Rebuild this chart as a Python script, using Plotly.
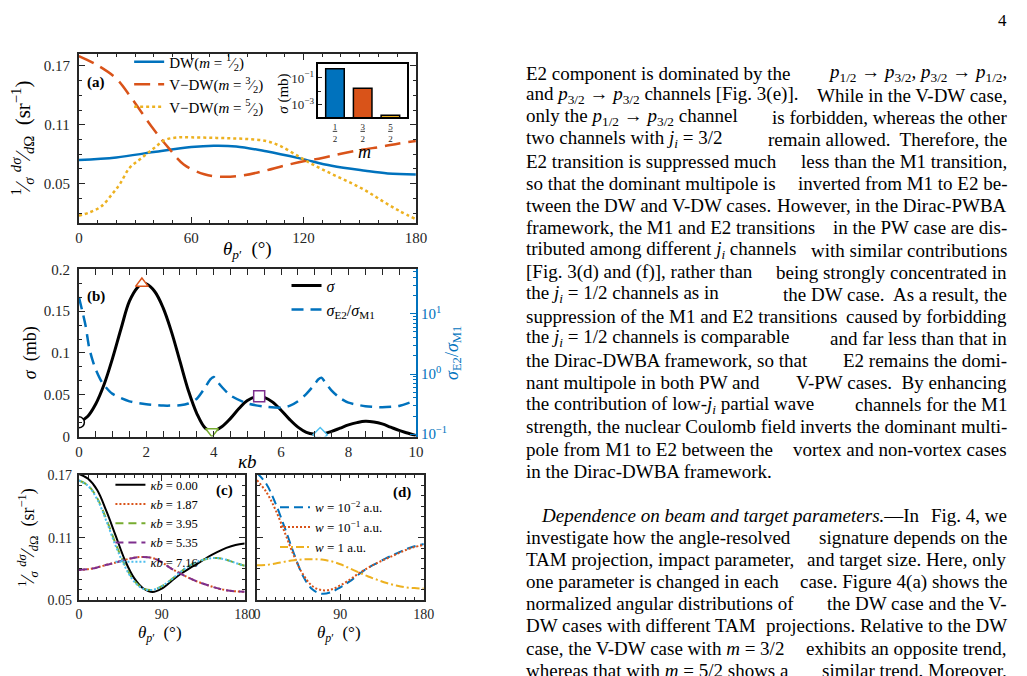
import plotly.graph_objects as go

W, H = 1027, 676
def px(x): return x / W
def py(y): return 1 - y / H

FONT = "Liberation Serif, Times New Roman, serif"
AX = "#262626"
BLUE = "#0072BD"; ORANGE = "#D95319"; YELLOW = "#EDB120"
PURPLE = "#7E2F8E"; GREEN = "#77AC30"; CYAN = "#4DBEEE"

# ---------------- data: panel (a) ----------------
theta_dw = [0, 20, 40, 60, 72, 84, 100, 118, 135, 153, 165, 180]
dw_m12 = [0.0742, 0.0768, 0.0822, 0.0873, 0.0887, 0.0880, 0.0830, 0.0758, 0.0682, 0.0632, 0.0605, 0.0594]
theta_v32 = [0, 10, 20, 28, 39, 48, 56, 67, 77, 88, 99, 109, 120, 130, 140, 151, 162, 171, 180]
vdw_m32 = [0.180, 0.1705, 0.157, 0.1375, 0.1077, 0.0862, 0.0696, 0.0596, 0.0570, 0.0586, 0.0630, 0.0680,
           0.0729, 0.0762, 0.0805, 0.0845, 0.0878, 0.0910, 0.0934]
theta_v52 = [0, 6, 12, 18, 22, 27, 33, 40, 46, 53, 60, 70, 80, 90, 100, 108, 118, 126, 135, 144, 153, 162, 171, 180]
vdw_m52 = [0.0175, 0.0210, 0.0270, 0.0400, 0.0500, 0.0660, 0.0755, 0.0860, 0.0945, 0.0972, 0.0972, 0.0968,
           0.0963, 0.0955, 0.0935, 0.0880, 0.0770, 0.0685, 0.0600, 0.0520, 0.0432, 0.0325, 0.0225, 0.0138]
m_labels = ["<u>1</u><br>2", "<u>3</u><br>2", "<u>5</u><br>2"]
m_pos = [1, 2, 3]
sigma_m = [0.49, 0.017, 1.6e-4]

# ---------------- data: panel (b) ----------------
kb = [0, 0.25, 0.5, 0.75, 1.0, 1.25, 1.5, 1.75, 1.87, 2.0, 2.25, 2.5, 2.75, 3.0, 3.25, 3.5, 3.75, 3.95,
      4.25, 4.5, 4.75, 5.0, 5.35, 5.5, 5.75, 6.0, 6.25, 6.5, 6.75, 7.0, 7.16, 7.5, 7.75, 8.0, 8.25, 8.5,
      8.75, 9.0, 9.25, 9.5, 9.75, 10]
sigma_kb = [0.0171, 0.0237, 0.039, 0.0626, 0.0938, 0.129, 0.162, 0.179, 0.183, 0.1825, 0.1735, 0.154, 0.125,
            0.0899, 0.0549, 0.0276, 0.0101, 0.0062, 0.012, 0.0218, 0.0335, 0.0432, 0.0482, 0.047, 0.0412,
            0.0315, 0.0206, 0.0113, 0.0051, 0.0027, 0.0023, 0.0062, 0.0101, 0.014, 0.0167, 0.0183, 0.0175,
            0.0152, 0.0113, 0.0074, 0.0043, 0.0012]
kb_r = [0, 0.1, 0.2, 0.3, 0.4, 0.5, 0.7, 1.0, 1.5, 2.0, 2.5, 3.0, 3.25, 3.5, 3.75, 3.9, 4.0, 4.1, 4.25, 4.5,
        5.0, 5.5, 6.0, 6.25, 6.5, 6.75, 7.0, 7.1, 7.2, 7.3, 7.5, 7.75, 8.0, 8.5, 9.0, 9.5, 10]
ratio_e2m1 = [19.0, 11.2, 6.3, 2.84, 1.73, 1.19, 0.706, 0.468, 0.352, 0.314, 0.299, 0.303, 0.324, 0.389,
              0.603, 0.813, 0.891, 0.759, 0.603, 0.44, 0.324, 0.288, 0.277, 0.295, 0.352, 0.468, 0.679,
              0.813, 0.871, 0.741, 0.53, 0.398, 0.334, 0.292, 0.281, 0.295, 0.365]
mark_kb = [0, 1.87, 3.95, 5.35, 7.16]
mark_sigma = [0.0171, 0.183, 0.0062, 0.0482, 0.0023]
mark_symbols = ["circle", "triangle-up", "triangle-down", "square", "diamond"]
mark_colors = ["black", ORANGE, GREEN, PURPLE, CYAN]

# ---------------- data: panels (c), (d) ----------------
theta_cd = [0, 10, 20, 30, 40, 50, 60, 70, 80, 90, 100, 110, 120, 130, 140, 150, 160, 170, 180]
c_kb000 = [0.171, 0.1663, 0.1554, 0.1351, 0.1117, 0.0884, 0.0712, 0.0613, 0.0580, 0.0613, 0.0681, 0.0750,
           0.0806, 0.0859, 0.0915, 0.0962, 0.1002, 0.1030, 0.1043]
c_kb187 = [0.0790, 0.0798, 0.0815, 0.0840, 0.0862, 0.0888, 0.0908, 0.0915, 0.0905, 0.0865, 0.0806, 0.0757,
           0.0712, 0.0675, 0.0644, 0.0617, 0.0597, 0.0586, 0.0582]
c_kb395 = [0.1647, 0.1600, 0.1476, 0.1273, 0.1040, 0.0837, 0.0688, 0.0613, 0.0600, 0.0635, 0.0697, 0.0769,
           0.0831, 0.0874, 0.0899, 0.0905, 0.0888, 0.0858, 0.0831]
c_kb535 = [0.0790, 0.0798, 0.0815, 0.0840, 0.0862, 0.0888, 0.0908, 0.0915, 0.0905, 0.0865, 0.0806, 0.0757,
           0.0712, 0.0675, 0.0644, 0.0617, 0.0597, 0.0586, 0.0582]
c_kb716 = [0.1647, 0.1595, 0.1465, 0.1255, 0.1020, 0.0822, 0.0680, 0.0610, 0.0600, 0.0635, 0.0697, 0.0769,
           0.0831, 0.0874, 0.0899, 0.0905, 0.0888, 0.0858, 0.0831]
d_w1em2 = [0.172, 0.1616, 0.1429, 0.1195, 0.0946, 0.0728, 0.0603, 0.0563, 0.0578, 0.0625, 0.0681, 0.0750,
           0.0812, 0.0859, 0.0906, 0.0946, 0.0987, 0.1018, 0.1040]
d_w1em1 = [0.165, 0.1538, 0.1367, 0.1149, 0.0924, 0.0744, 0.0635, 0.0597, 0.0603, 0.0644, 0.0697, 0.0759,
           0.0812, 0.0859, 0.0900, 0.0940, 0.0980, 0.1010, 0.1030]
d_w1 = [0.0837, 0.0840, 0.0853, 0.0870, 0.0884, 0.0892, 0.0893, 0.0890, 0.0874, 0.0845, 0.0806, 0.0767,
        0.0728, 0.0696, 0.0666, 0.0643, 0.0625, 0.0617, 0.0613]

# ---------------- text column ----------------
text_lines = [
    "E2 component is dominated by the|<i>p</i><sub>1/2</sub> → <i>p</i><sub>3/2</sub>, <i>p</i><sub>3/2</sub> → <i>p</i><sub>1/2</sub>,",
    "and <i>p</i><sub>3/2</sub> → <i>p</i><sub>3/2</sub> channels [Fig. 3(e)].|While in the V-DW case,",
    "only the <i>p</i><sub>1/2</sub> → <i>p</i><sub>3/2</sub> channel|is forbidden, whereas the other",
    "two channels with <i>j<sub>i</sub></i> = 3/2|remain allowed.  Therefore, the",
    "E2 transition is suppressed much|less than the M1 transition,",
    "so that the dominant multipole is|inverted from M1 to E2 be-",
    "tween the DW and V-DW cases.|However, in the Dirac-PWBA",
    "framework, the M1 and E2 transitions|in the PW case are dis-",
    "tributed among different <i>j<sub>i</sub></i> channels|with similar contributions",
    "[Fig. 3(d) and (f)], rather than|being strongly concentrated in",
    "the <i>j<sub>i</sub></i> = 1/2 channels as in|the DW case.  As a result, the",
    "suppression of the M1 and E2 transitions|caused by forbidding",
    "the <i>j<sub>i</sub></i> = 1/2 channels is comparable|and far less than that in",
    "the Dirac-DWBA framework, so that|E2 remains the domi-",
    "nant multipole in both PW and|V-PW cases.  By enhancing",
    "the contribution of low-<i>j<sub>i</sub></i> partial wave|channels for the M1",
    "strength, the nuclear Coulomb field|inverts the dominant multi-",
    "pole from M1 to E2 between the|vortex and non-vortex cases",
    "in the Dirac-DWBA framework.",
    "",
    "<i>Dependence on beam and target parameters.</i>—In|Fig. 4, we",
    "investigate how the angle-resolved|signature depends on the",
    "TAM projection, impact parameter,|and target size. Here, only",
    "one parameter is changed in each|case. Figure 4(a) shows the",
    "normalized angular distributions of|the DW case and the V-",
    "DW cases with different TAM|projections. Relative to the DW",
    "case, the V-DW case with <i>m</i> = 3/2|exhibits an opposite trend,",
    "whereas that with <i>m</i> = 5/2 shows a|similar trend. Moreover,",
]
indented_lines = [20]

fig = go.Figure()

# ---- (a) ----
fig.add_trace(go.Scatter(x=theta_dw, y=dw_m12, mode="lines", xaxis="x", yaxis="y", legend="legend",
                         name="DW(<i>m</i> = <sup>1</sup>⁄<sub>2</sub>)",
                         line=dict(color=BLUE, width=2.5, shape="spline")))
fig.add_trace(go.Scatter(x=theta_v32, y=vdw_m32, mode="lines", xaxis="x", yaxis="y", legend="legend",
                         name="V−DW(<i>m</i> = <sup>3</sup>⁄<sub>2</sub>)",
                         line=dict(color=ORANGE, width=2.5, shape="spline", dash="16px,8px")))
fig.add_trace(go.Scatter(x=theta_v52, y=vdw_m52, mode="lines", xaxis="x", yaxis="y", legend="legend",
                         name="V−DW(<i>m</i> = <sup>5</sup>⁄<sub>2</sub>)",
                         line=dict(color=YELLOW, width=2.5, shape="spline", dash="3px,3px")))
fig.add_trace(go.Bar(x=m_pos, y=sigma_m, xaxis="x2", yaxis="y2", showlegend=False, width=0.67,
                     marker=dict(color=[BLUE, ORANGE, YELLOW], line=dict(color="black", width=1.5))))

# ---- (b) ----
fig.add_trace(go.Scatter(x=kb, y=sigma_kb, mode="lines", xaxis="x3", yaxis="y3", legend="legend2",
                         name="<i>σ</i>", line=dict(color="black", width=3, shape="spline")))
fig.add_trace(go.Scatter(x=kb_r, y=ratio_e2m1, mode="lines", xaxis="x3", yaxis="y4", legend="legend2",
                         name="<i>σ</i><sub>E2</sub>/<i>σ</i><sub>M1</sub>",
                         line=dict(color=BLUE, width=2.5, shape="spline", smoothing=0.7, dash="12px,7px")))
fig.add_trace(go.Scatter(x=mark_kb, y=mark_sigma, mode="markers", xaxis="x3", yaxis="y3", showlegend=False,
                         marker=dict(symbol=mark_symbols, size=11, color="white",
                                     line=dict(color=mark_colors, width=1.5))))

# ---- (c) ----
c_series = [("<i>κb</i> = 0.00", c_kb000, "black", "solid"),
            ("<i>κb</i> = 1.87", c_kb187, ORANGE, "2px,2px"),
            ("<i>κb</i> = 3.95", c_kb395, GREEN, "8px,5px"),
            ("<i>κb</i> = 5.35", c_kb535, PURPLE, "8px,5px"),
            ("<i>κb</i> = 7.16", c_kb716, CYAN, "2px,2px")]
for name, ys, col, dash in c_series:
    fig.add_trace(go.Scatter(x=theta_cd, y=ys, mode="lines", xaxis="x5", yaxis="y5", legend="legend3",
                             name=name, line=dict(color=col, width=2, shape="spline", dash=dash)))

# ---- (d) ----
d_series = [("<i>w</i> = 10<sup>−2</sup> a.u.", d_w1em2, BLUE, "9px,5px"),
            ("<i>w</i> = 10<sup>−1</sup> a.u.", d_w1em1, ORANGE, "2px,2px"),
            ("<i>w</i> = 1 a.u.", d_w1, YELLOW, "8px,3px,2px,3px")]
for name, ys, col, dash in d_series:
    fig.add_trace(go.Scatter(x=theta_cd, y=ys, mode="lines", xaxis="x6", yaxis="y6", legend="legend4",
                             name=name, line=dict(color=col, width=2, shape="spline", dash=dash)))


def axis(domain, rng, tickvals, ticktext=None, minor=None, size=15, mirror="allticks", anchor=None,
         showlabels=True, **kw):
    d = dict(domain=domain, range=rng, tickmode="array", tickvals=tickvals, ticks="inside", ticklen=6,
             tickwidth=1.2, tickcolor=AX, showline=True, linecolor=AX, linewidth=2, mirror=mirror,
             showgrid=False, zeroline=False, showticklabels=showlabels,
             tickfont=dict(family=FONT, size=size, color=AX))
    if ticktext is not None:
        d["ticktext"] = ticktext
    if minor is not None:
        d["minor"] = dict(ticks="inside", ticklen=3, tickwidth=1, tickcolor=AX, showgrid=False, **minor)
    if anchor:
        d["anchor"] = anchor
    d.update(kw)
    return d

xa = [px(76), px(418)]
fig.update_layout(
    xaxis=axis(xa, [0, 180], [0, 60, 120, 180], minor=dict(dtick=10, tick0=0), anchor="y"),
    yaxis=axis([py(220), py(47)], [0.0102, 0.1822], [0.05, 0.11, 0.17],
               minor=dict(dtick=0.015, tick0=0.05), anchor="x", ticklabelstandoff=4),
    xaxis2=axis([px(319), px(409)], [0.4, 3.6], m_pos, ticktext=m_labels, size=9, mirror=True,
                anchor="y2", ticks="", linewidth=1.5, linecolor="black", ticklabelstandoff=0),
    yaxis2=axis([py(112), py(57)], [-3.95, 0.07], [1e-3, 1e-1],
                ticktext=["10<sup>−3</sup>", "10<sup>−1</sup>"], size=13, mirror=True, anchor="x2",
                type="log", ticklen=4, linewidth=1.5, linecolor="black",
                minor=dict(tickvals=[1e-4, 1e-2, 1])),
    xaxis3=axis(xa, [0, 10], [0, 2, 4, 6, 8, 10], minor=dict(dtick=0.5, tick0=0), anchor="y3"),
    yaxis3=axis([py(439), py(267.7)], [0, 0.2], [0, 0.05, 0.1, 0.15, 0.2],
                ticktext=["0", "0.05", "0.1", "0.15", "0.2"], minor=dict(dtick=0.05 / 3, tick0=0),
                mirror=False, anchor="x3", ticklabelstandoff=4),
    yaxis4=dict(overlaying="y3", side="right", anchor="x3", type="log", range=[-1.04, 1.74],
                tickmode="array", tickvals=[0.1, 1, 10],
                ticktext=["10<sup>−1</sup>", "10<sup>0</sup>", "10<sup>1</sup>"],
                ticks="inside", ticklen=6, tickwidth=1.2, tickcolor=BLUE, showline=True, linecolor=BLUE,
                linewidth=2, showgrid=False, zeroline=False,
                tickfont=dict(family=FONT, size=15, color=BLUE),
                minor=dict(ticks="inside", ticklen=3, tickwidth=1, tickcolor=BLUE, showgrid=False,
                           tickvals=[v * m for v in [0.1, 1, 10] for m in range(2, 10)])),
    xaxis5=axis([px(76), px(244.3)], [0, 180], [0, 90, 180], minor=dict(dtick=10, tick0=0), size=14,
                anchor="y5"),
    yaxis5=axis([py(606.7), py(478.3)], [0.05, 0.17], [0.05, 0.11, 0.17], minor=dict(dtick=0.01, tick0=0.05),
                size=14, anchor="x5", ticklabelstandoff=2),
    xaxis6=axis([px(256.7), px(426)], [0, 180], [0, 90, 180], minor=dict(dtick=10, tick0=0), size=14,
                anchor="y6"),
    yaxis6=axis([py(606.7), py(478.3)], [0.05, 0.17], [0.05, 0.11, 0.17], minor=dict(dtick=0.01, tick0=0.05),
                size=14, anchor="x6", showlabels=False),
)


def leg(left, top, fs):
    return dict(x=px(left), y=py(top), xanchor="left", yanchor="top", bgcolor="rgba(0,0,0,0)",
                borderwidth=0, font=dict(family=FONT, size=fs, color="black"), tracegroupgap=0)

fig.update_layout(
    width=W, height=H, margin=dict(l=0, r=0, t=0, b=0),
    paper_bgcolor="white", plot_bgcolor="white", showlegend=True,
    font=dict(family=FONT, color="black"),
    legend=leg(127, 38.5, 15), legend2=leg(286.7, 267, 16),
    legend3=leg(108, 473.4, 12.5), legend4=leg(275, 496, 13),
)

ann = []
def add(text, x, y, size=16, angle=0, color="black", xanchor="center", yanchor="middle"):
    ann.append(dict(text=text, x=px(x), y=py(y), xref="paper", yref="paper", showarrow=False,
                    textangle=angle, xanchor=xanchor, yanchor=yanchor,
                    font=dict(family=FONT, size=size, color=color)))

theta_title = "<i>θ</i><sub><i>p</i>′</sub>  (°)"
ydsig = "<sup>1</sup>⁄<sub><i>σ</i></sub> <sup><i>dσ</i></sup>⁄<sub><i>d</i>Ω</sub>  (sr<sup>−1</sup>)"
add(theta_title, 247, 248, 19)
add(ydsig, 19, 133, 21, angle=-90)
add("<i>σ</i> (mb)", 284, 88, 15, angle=-90)
add("<i>m</i>", 366, 147, 18)
add("<b>(a)</b>", 93, 76, 15)
add("<i>κb</i>", 247, 465, 19)
add("<i>σ</i>  (mb)", 27, 353, 18, angle=-90)
add("<i>σ</i><sub>E2</sub>/<i>σ</i><sub>M1</sub>", 456, 353, 18, angle=-90, color=BLUE)
add("<b>(b)</b>", 93, 296, 15)
add(ydsig, 24, 542, 18, angle=-90)
add(theta_title, 158, 641, 17)
add(theta_title, 340, 641, 17)
add("<b>(c)</b>", 224, 494, 15)
add("<b>(d)</b>", 404, 496, 15)
add("4", 1013, 13, 17)

TX0, TX1, TFS = 528, 1020, 19.0
for i, line in enumerate(text_lines):
    if not line:
        continue
    yc = 66.7 + 22.65 * i
    x0 = 543 if i in indented_lines else TX0
    if "|" in line:
        left, right = line.split("|")
        add(left, x0, yc, TFS, xanchor="left")
        add(right, TX1, yc, TFS, xanchor="right")
    else:
        add(line, x0, yc, TFS, xanchor="left")

fig.update_layout(annotations=ann)
fig.write_html("out.html")
